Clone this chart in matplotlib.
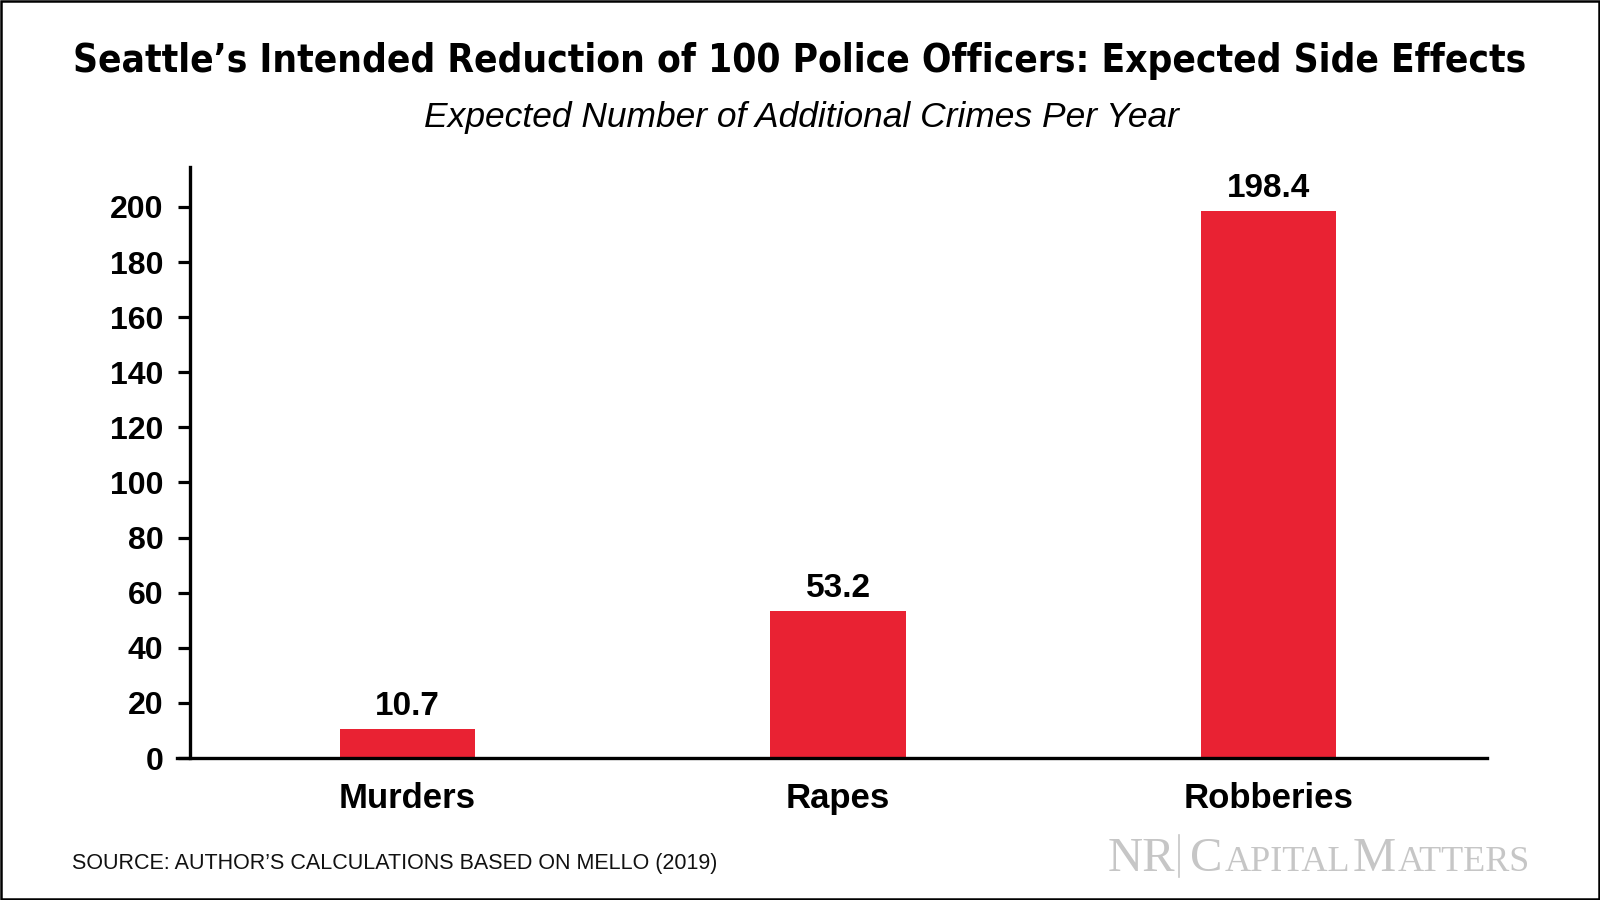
import matplotlib
matplotlib.use("Agg")
import matplotlib.pyplot as plt
from matplotlib import font_manager
from matplotlib.font_manager import FontProperties
from matplotlib.patches import Rectangle
from matplotlib.lines import Line2D

categories = ["Murders", "Rapes", "Robberies"]
values = [10.7, 53.2, 198.4]
yticks = [0, 20, 40, 60, 80, 100, 120, 140, 160, 180, 200]

title = "Seattle\u2019s Intended Reduction of 100 Police Officers: Expected Side Effects"
subtitle = "Expected Number of Additional Crimes Per Year"
source = "SOURCE: AUTHOR\u2019S CALCULATIONS BASED ON MELLO (2019)"

W, H = 1600, 900
fig = plt.figure(figsize=(16, 9), dpi=100)
ax = fig.add_axes([190 / W, 1 - 758 / H, (1487 - 190) / W, (758 - 167) / H])

sans = "Liberation Sans"
red = "#E92233"

ax.bar(range(len(categories)), values, width=0.314, color=red)
ax.set_xlim(-0.505, 2.507)
ax.set_ylim(0, 214.5)

for i, v in enumerate(values):
    ax.annotate(f"{v:.1f}", (i, v), xytext=(0, 5), textcoords="offset points",
                ha="center", va="bottom", fontsize=24, fontweight="bold", family=sans)

ax.set_yticks(yticks)
ax.set_yticklabels([str(t) for t in yticks], fontsize=23, fontweight="bold", family=sans)
ax.set_xticks(range(len(categories)))
ax.set_xticklabels(categories, fontsize=25, fontweight="bold", family=sans)
ax.tick_params(axis="y", length=9, width=2.3, pad=10)
ax.tick_params(axis="x", length=0, pad=17)

for s in ["top", "right"]:
    ax.spines[s].set_visible(False)
for s in ["left", "bottom"]:
    ax.spines[s].set_linewidth(2.4)
# baseline runs out to the tick stub on the left
ax.spines["bottom"].set_bounds(-0.505 - 13 / 430.5, 2.507)
ax.spines["bottom"].set_clip_on(False)


# look for a condensed bold face for the title, else Roboto Bold
def pick_title_font():
    fl = font_manager.fontManager.ttflist
    for f in fl:
        n = f.name.lower()
        cond = ("condensed" in n or "narrow" in n or
                str(f.stretch).lower() in ("condensed", "semi-condensed", "extra-condensed"))
        bold = f.weight in ("bold", 700, 600, "semibold", "demibold") or \
            (isinstance(f.weight, int) and f.weight >= 600)
        if cond and bold and "serif" not in n and "mono" not in n:
            return FontProperties(fname=f.fname)
    return FontProperties(family="Roboto", weight="bold")


tprop = pick_title_font()
tprop.set_size(36)
t_title = fig.text(0.5, 1 - 61 / H, title, ha="center", va="center",
                   fontproperties=tprop)
fig.text(801 / W, 1 - 117 / H, subtitle, ha="center", va="center", fontsize=25.5,
         style="italic", family=sans)
fig.text(72 / W, 1 - 869 / H, source, ha="left", va="baseline", fontsize=15.5,
         family=sans, color="#111111")

fig.canvas.draw()
r = fig.canvas.get_renderer()
# fit the title to the width it has in the reference
tw = t_title.get_window_extent(r).width
t_title.set_fontsize(36 * 1452 / tw)

# NR | CapitalMatters logo
grey = "#C6C6C6"
serif = "Liberation Serif"
big, small = 35, 26
base = 1 - 871 / H


def put(x, s, size):
    t = fig.text(x / W, base, s, ha="left", va="baseline", fontsize=size,
                 family=serif, color=grey)
    return x + t.get_window_extent(r).width


put(1108, "NR", big)
fig.add_artist(Line2D([1179 / W, 1179 / W], [1 - 835 / H, 1 - 877 / H],
                      color=grey, lw=1.2, transform=fig.transFigure))
x = put(1190, "C", big)
x = put(x + 2.5, "APITAL", small)
x = put(x + 2.5, "M", big)
put(x + 2, "ATTERS", small)

fig.add_artist(Rectangle((0.0008, 0.0012), 0.9984, 0.9976, fill=False,
                         edgecolor="black", lw=1.8, transform=fig.transFigure))

fig.savefig("out.png", dpi=100)
